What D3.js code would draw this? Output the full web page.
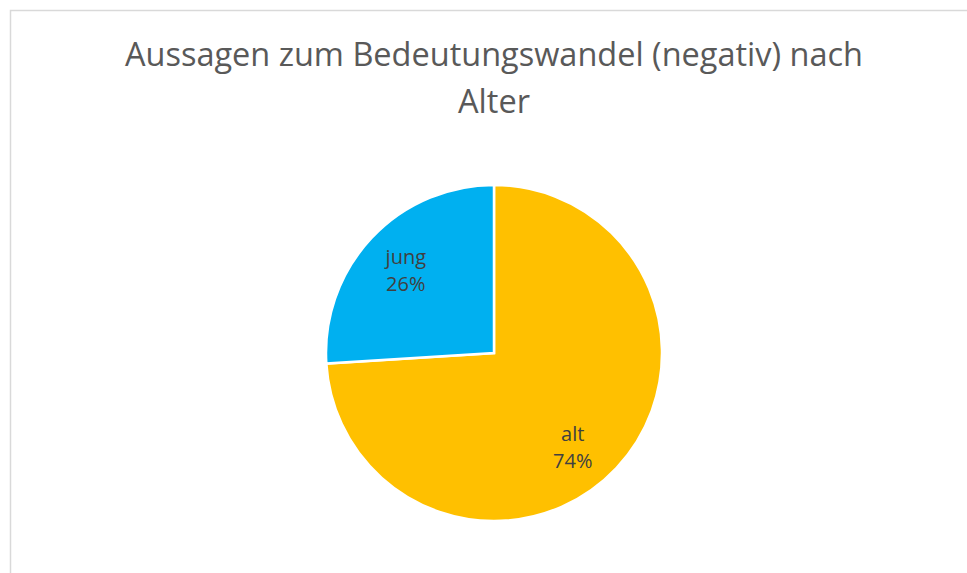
<!DOCTYPE html>
<html lang="de">
<head>
<meta charset="UTF-8">
<title>Aussagen zum Bedeutungswandel (negativ) nach Alter</title>
<script src="https://cdn.jsdelivr.net/npm/d3@7"></script>
<style>
  * { margin: 0; padding: 0; box-sizing: border-box; }
  body { background: #fff; width: 967px; height: 573px; overflow: hidden; }
  svg { display: block; font-family: 'Open Sans', 'Noto Sans', sans-serif; }
</style>
</head>
<body>
<svg id="chart" width="967" height="573"></svg>
<script>
// data
const categories = ['alt', 'jung'];
const values     = [74, 26];
const colors     = ['#FFC000', '#00B0F0'];
const titleLines = ['Aussagen zum Bedeutungswandel (negativ) nach', 'Alter'];

const W = 967, H = 573;
const cx = 494, cy = 353, R = 168;

// Excel "best fit" label placement: radius fraction + angle shift (rad) per slice
const labelPlacement = { alt: { r: 0.73, shift: 0.12 }, jung: { r: 0.72, shift: 0 } };

const svg = d3.select('#chart');

// chart area border (runs off the right/bottom edge)
svg.append('rect')
  .attr('x', 10.5).attr('y', 10.5)
  .attr('width', W + 20).attr('height', H + 20)
  .attr('fill', '#fff')
  .attr('stroke', '#d9d9d9')
  .attr('stroke-width', 1.5);

// title
const title = svg.append('text')
  .attr('text-anchor', 'middle')
  .attr('fill', '#595959')
  .attr('font-size', 32);
title.append('tspan').attr('x', 494).attr('y', 66)
  .attr('textLength', 738).attr('lengthAdjust', 'spacingAndGlyphs')
  .text(titleLines[0]);
title.append('tspan').attr('x', 494).attr('y', 113)
  .attr('textLength', 72).attr('lengthAdjust', 'spacingAndGlyphs')
  .text(titleLines[1]);

// pie
const data = categories.map((c, i) => ({ name: c, value: values[i], color: colors[i] }));
const pie = d3.pie().value(d => d.value).sort(null);
const arc = d3.arc().innerRadius(0).outerRadius(R);
const total = d3.sum(values);

function labelPos(d) {
  const p = labelPlacement[d.data.name];
  const a = (d.startAngle + d.endAngle) / 2 + p.shift;
  const r = R * p.r;
  return [Math.sin(a) * r, -Math.cos(a) * r];
}

const g = svg.append('g').attr('transform', `translate(${cx},${cy})`);

g.selectAll('path')
  .data(pie(data))
  .enter().append('path')
  .attr('d', arc)
  .attr('fill', d => d.data.color)
  .attr('stroke', '#fff')
  .attr('stroke-width', 2.5)
  .attr('stroke-linejoin', 'miter');

const labels = g.selectAll('text.lbl')
  .data(pie(data))
  .enter().append('text')
  .attr('class', 'lbl')
  .attr('text-anchor', 'middle')
  .attr('fill', '#404040')
  .attr('font-size', 20)
  .attr('transform', d => `translate(${labelPos(d)})`);

labels.append('tspan').attr('x', 0).attr('y', -6).text(d => d.data.name);
labels.append('tspan').attr('x', 0).attr('y', 21)
  .text(d => Math.round(d.data.value / total * 100) + '%');
</script>
</body>
</html>
